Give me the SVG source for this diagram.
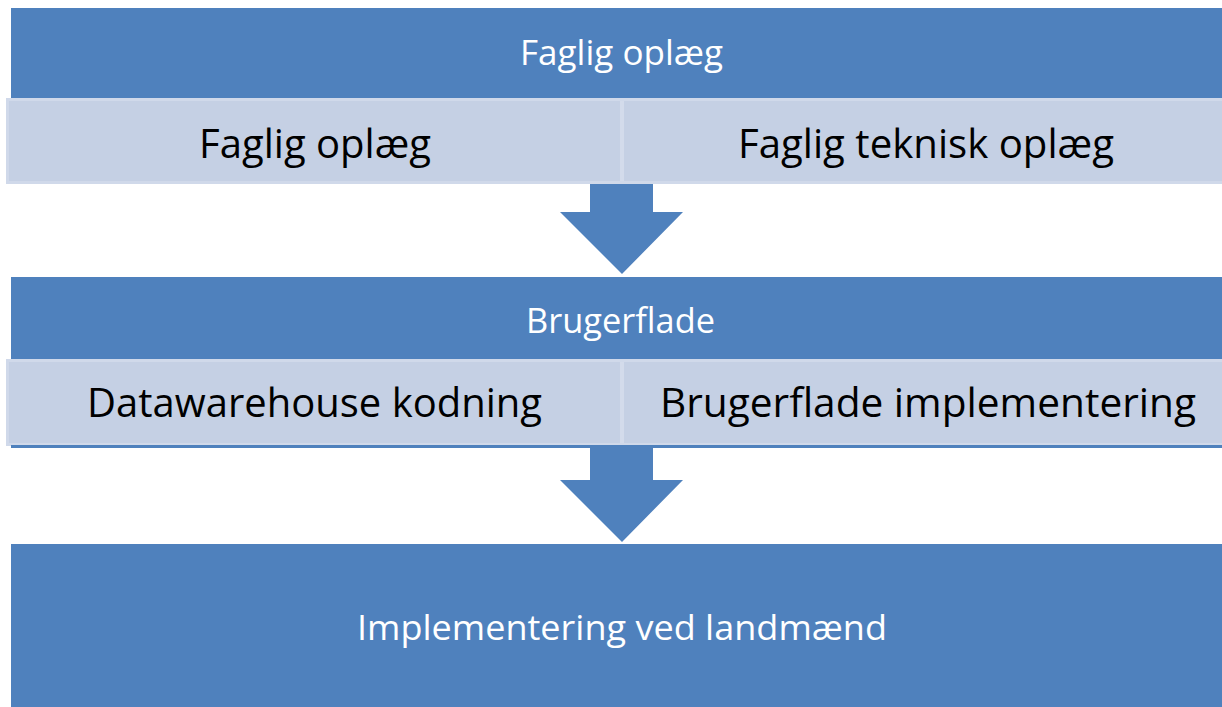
<svg xmlns="http://www.w3.org/2000/svg" width="1222" height="707" viewBox="0 0 1222 707">
  <style>
    .bar { fill: #4f81bd; }
    .sub { fill: #c5d0e4; stroke: #d0d9ea; stroke-width: 3; }
    .div { stroke: #d3dbeb; stroke-width: 4; }
    .arrow { fill: #4f81bd; }
    .t-white { font-family: "Open Sans", "Liberation Sans", sans-serif; fill: #ffffff; font-size: 34px; text-anchor: start; }
    .t-black { font-family: "Open Sans", "Liberation Sans", sans-serif; fill: #000000; font-size: 41px; text-anchor: start; }
  </style>
  <rect x="0" y="0" width="1222" height="707" fill="#ffffff"/>

  <g id="stage1">
    <rect class="bar" x="11" y="8" width="1211" height="91"/>
    <text class="t-white" x="520" y="65" textLength="203" lengthAdjust="spacingAndGlyphs">Faglig oplæg</text>
  </g>
  <g id="stage1-sub">
    <rect class="sub" x="7.5" y="99.5" width="1216" height="83"/>
    <line class="div" x1="622" y1="101" x2="622" y2="181"/>
    <text class="t-black" x="199" y="158" textLength="232" lengthAdjust="spacingAndGlyphs">Faglig oplæg</text>
    <text class="t-black" x="738" y="158" textLength="376" lengthAdjust="spacingAndGlyphs">Faglig teknisk oplæg</text>
  </g>

  <g id="stage2">
    <rect class="bar" x="11" y="277" width="1211" height="83"/>
    <text class="t-white" x="526" y="333" textLength="189" lengthAdjust="spacingAndGlyphs">Brugerflade</text>
  </g>
  <g id="stage2-sub">
    <rect class="sub" x="7.5" y="360.5" width="1216" height="84"/>
    <line class="div" x1="622" y1="362" x2="622" y2="443"/>
    <rect class="bar" x="11" y="445" width="1211" height="3"/>
    <text class="t-black" x="87" y="417" textLength="455" lengthAdjust="spacingAndGlyphs">Datawarehouse kodning</text>
    <text class="t-black" x="660" y="417" textLength="536" lengthAdjust="spacingAndGlyphs">Brugerflade implementering</text>
  </g>

  <g id="stage3">
    <rect class="bar" x="11" y="544" width="1211" height="163"/>
    <text class="t-white" x="357" y="640" textLength="530" lengthAdjust="spacingAndGlyphs">Implementering ved landmænd</text>
  </g>

  <g id="connectors">
    <polygon class="arrow" points="590,184 653,184 653,212 683,212 622,274 560,212 590,212"/>
    <polygon class="arrow" points="590,448 653,448 653,480 683,480 622,542 560,480 590,480"/>
  </g>
</svg>
